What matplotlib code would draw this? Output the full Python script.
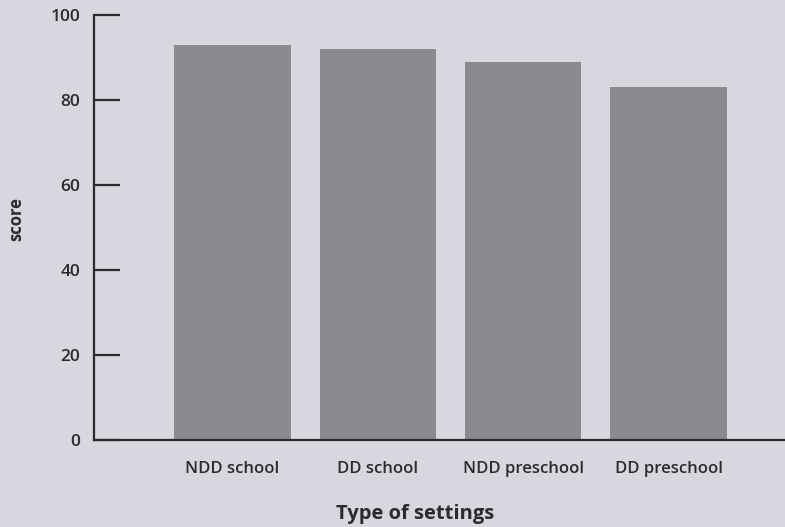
import numpy as np
import matplotlib.pyplot as plt

settings = ['NDD school', 'DD school', 'NDD preschool', 'DD preschool']
scores = [93, 92, 89, 83]
y_ticks = [0, 20, 40, 60, 80, 100]

bg = '#d8d6de'
bar_color = '#8b8a91'
ink = '#2b2b2e'

plt.rcParams['font.family'] = ['Open Sans', 'DejaVu Sans']

fig = plt.figure(figsize=(7.85, 5.27), dpi=100, facecolor=bg)
ax = fig.add_axes([0.12, 0.165, 0.88, 0.807])
ax.set_facecolor(bg)

x = np.arange(len(settings))
ax.bar(x, scores, width=0.8, color=bar_color)

ax.set_xlim(-0.95, 3.8)
ax.set_ylim(0, 100)
ax.set_yticks(y_ticks)
ax.set_xticks(x)
ax.set_xticklabels(settings, fontweight='semibold')
for lab in ax.get_yticklabels():
    lab.set_fontweight('semibold')

for side in ['top', 'right']:
    ax.spines[side].set_visible(False)
for side in ['left', 'bottom']:
    ax.spines[side].set_color(ink)
    ax.spines[side].set_linewidth(1.6)

ax.tick_params(axis='y', direction='in', length=19, width=1.6, color=ink,
               pad=10, labelsize=12.5, labelcolor=ink)
ax.tick_params(axis='x', length=0, pad=15, labelsize=12, labelcolor=ink)

ax.set_ylabel('score', fontsize=12, fontweight='bold', color=ink)
ax.yaxis.set_label_coords(-0.1, 0.52)
ax.set_xlabel('Type of settings', fontsize=14.5, fontweight='bold', color=ink)
ax.xaxis.set_label_coords(0.465, -0.15)

fig.savefig('out.png', dpi=100, facecolor=bg)
